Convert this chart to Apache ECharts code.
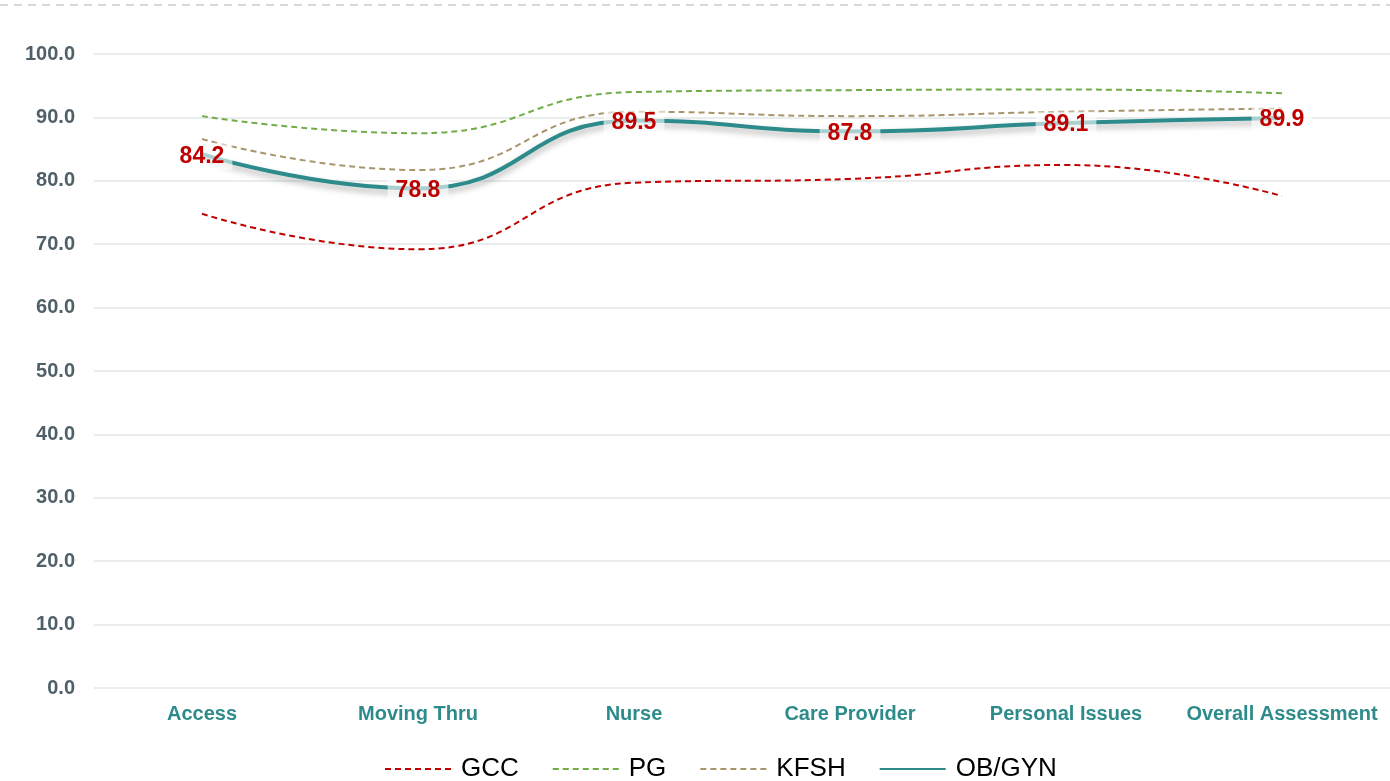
<!DOCTYPE html>
<html>
<head>
<meta charset="utf-8">
<script src="https://cdn.jsdelivr.net/npm/echarts@6/dist/echarts.min.js"></script>
<style>
  html, body { margin: 0; padding: 0; background: #fff; }
  #chart { width: 1390px; height: 781px; }
</style>
</head>
<body>
<div id="chart"></div>
<script>
// Survey dimensions
const categories = ['Access', 'Moving Thru', 'Nurse', 'Care Provider', 'Personal Issues', 'Overall Assessment'];

// Benchmark scores
const gccScores  = [74.8, 69.2, 79.7, 80.3, 82.5, 77.6];
const pgScores   = [90.2, 87.5, 94.0, 94.3, 94.4, 93.8];
const kfshScores = [86.6, 81.7, 90.9, 90.2, 90.9, 91.4];

// Department scores (labelled)
const obgynScores = [84.2, 78.8, 89.5, 87.8, 89.1, 89.9];

const yTicks = { min: 0, max: 100, interval: 10 };

const chart = echarts.init(document.getElementById('chart'));

function dashed(name, data, color) {
  return {
    name: name,
    type: 'line',
    data: data,
    smooth: 0.5,
    symbol: 'none',
    lineStyle: { color: color, width: 2, type: [6, 4] },
    itemStyle: { color: color },
    z: 2
  };
}

chart.setOption({
  animation: false,
  textStyle: { fontFamily: 'Arial, "Liberation Sans", sans-serif' },
  grid: { left: 94, right: 0, top: 54, bottom: 93, containLabel: false },
  graphic: [{
    type: 'line',
    shape: { x1: 0, y1: 5, x2: 1390, y2: 5 },
    style: { stroke: '#c8cdd0', lineWidth: 1.5, lineDash: [8, 6] }
  }],
  xAxis: {
    type: 'category',
    data: categories,
    boundaryGap: true,
    axisLine: { show: false },
    axisTick: { show: false },
    axisLabel: { interval: 0, color: '#2E8B8B', fontWeight: 'bold', fontSize: 20, margin: 16 }
  },
  yAxis: {
    type: 'value',
    min: yTicks.min,
    max: yTicks.max,
    interval: yTicks.interval,
    axisLine: { show: false },
    axisTick: { show: false },
    splitLine: { lineStyle: { color: '#e3e7e8', width: 1.5 } },
    axisLabel: {
      color: '#4F6069', fontWeight: 'bold', fontSize: 20, margin: 19,
      formatter: v => v.toFixed(1)
    }
  },
  legend: {
    top: 751,
    left: 379,
    itemWidth: 66,
    itemHeight: 14,
    itemGap: 33,
    itemStyle: { opacity: 0 },
    textStyle: { color: '#000', fontSize: 26, padding: [0, 0, 0, 5] },
    data: ['GCC', 'PG', 'KFSH', 'OB/GYN']
  },
  series: [
    dashed('GCC', gccScores, '#C00000'),
    dashed('PG', pgScores, '#70AD47'),
    dashed('KFSH', kfshScores, '#A8956B'),
    {
      name: 'OB/GYN',
      type: 'line',
      data: obgynScores,
      smooth: 0.5,
      symbol: 'circle',
      symbolSize: 0,
      showSymbol: true,
      z: 3,
      lineStyle: {
        color: '#2E8B8B', width: 4,
        shadowColor: 'rgba(0,0,0,0.3)', shadowBlur: 6, shadowOffsetY: 4
      },
      itemStyle: { color: '#2E8B8B' },
      label: {
        show: true,
        position: 'inside',
        offset: [0, 2],
        color: '#C00000',
        fontWeight: 'bold',
        fontSize: 23,
        backgroundColor: 'rgba(255,255,255,0.6)',
        padding: [2, 8],
        formatter: p => p.value.toFixed(1)
      }
    }
  ]
});
</script>
</body>
</html>
